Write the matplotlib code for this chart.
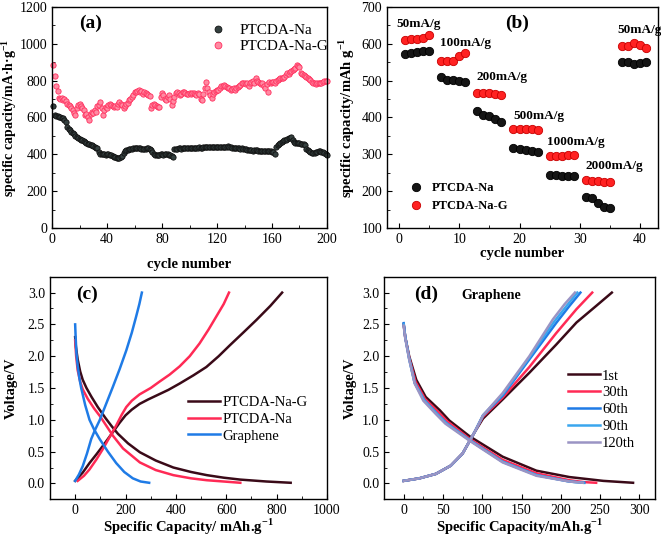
import numpy as np
import matplotlib
matplotlib.use("Agg")
import matplotlib.pyplot as plt
from matplotlib.ticker import MultipleLocator, FormatStrFormatter

plt.rcParams['font.family'] = ['Liberation Serif', 'DejaVu Serif']
plt.rcParams['mathtext.fontset'] = 'custom'
plt.rcParams['mathtext.rm'] = 'Liberation Serif'
plt.rcParams['mathtext.bf'] = 'Liberation Serif:bold'
plt.rcParams['xtick.direction'] = 'in'
plt.rcParams['ytick.direction'] = 'in'

# ---------- (a) cycling ----------
na_cap = [662, 612, 610, 608, 605, 600, 598, 595, 585, 575,
          550, 540, 530, 522, 515, 508, 500, 495, 490, 485,
          480, 476, 472, 468, 462, 458, 455, 452, 448, 445,
          440, 436, 432, 410, 402, 400, 400, 400, 398, 400,
          400, 398, 396, 392, 388, 384, 380, 382, 380, 384,
          390, 405, 420, 425, 426, 428, 430, 430, 432, 432,
          433, 433, 432, 432, 430, 430, 428, 430, 432, 432,
          430, 425, 410, 402, 398, 398, 396, 398, 400, 400,
          398, 400, 402, 400, 398, 396, 392, 388, 428, 430,
          430, 432, 432, 430, 432, 433, 433, 432, 434, 434,
          435, 436, 436, 434, 435, 436, 438, 437, 436, 438,
          440, 440, 438, 440, 441, 440, 440, 441, 442, 442,
          441, 440, 440, 438, 438, 440, 442, 443, 440, 438,
          436, 435, 436, 434, 432, 432, 430, 432, 430, 428,
          428, 426, 426, 425, 422, 420, 422, 424, 424, 420,
          418, 418, 420, 418, 418, 417, 416, 418, 416, 414,
          412, 400, 440, 448, 455, 462, 468, 472, 476, 480,
          484, 486, 488, 492, 478, 468, 464, 462, 462, 460,
          458, 456, 458, 450, 430, 426, 420, 414, 408, 406,
          408, 410, 414, 418, 418, 414, 412, 408, 402, 398]
nag_cap = [884, 828, 770, 745, 705, 700, 704, 694, 698, 688,
           676, 670, 660, 650, 640, 622, 613, 650, 666, 676,
           662, 650, 640, 612, 620, 600, 586, 620, 632, 625,
           640, 630, 660, 667, 685, 650, 613, 640, 658, 650,
           666, 676, 670, 665, 658, 660, 658, 672, 685, 676,
           668, 649, 660, 676, 680, 694, 700, 712, 724, 740,
           740, 745, 749, 738, 742, 730, 736, 731, 725, 722,
           716, 649, 668, 676, 667, 660, 658, 655, 710, 731,
           720, 700, 694, 710, 720, 700, 667, 690, 710, 731,
           740, 735, 720, 728, 736, 740, 734, 730, 728, 731,
           726, 734, 731, 728, 720, 731, 726, 700, 694, 730,
           760, 794, 758, 740, 720, 704, 730, 740, 745, 749,
           750, 762, 770, 772, 776, 770, 765, 762, 758, 750,
           755, 758, 752, 760, 765, 770, 778, 785, 790, 785,
           780, 790, 770, 785, 795, 800, 790, 812, 800, 792,
           785, 780, 790, 770, 760, 780, 740, 795, 790, 794,
           794, 790, 800, 805, 810, 812, 815, 812, 820, 830,
           840, 835, 845, 850, 860, 865, 870, 884, 880, 872,
           840, 835, 830, 825, 820, 812, 808, 803, 795, 790,
           785, 782, 785, 788, 786, 790, 792, 796, 800, 798]
cycles_a = np.arange(1, len(na_cap) + 1)

# ---------- (b) rate ----------
cycles_b = [1, 2, 3, 4, 5, 7, 8, 9, 10, 11, 13, 14, 15, 16, 17, 19, 20, 21, 22, 23,
            25, 26, 27, 28, 29, 31, 32, 33, 34, 35, 37, 38, 39, 40, 41]
rate_na = [572, 575, 578, 581, 581, 510, 502, 502, 499, 497, 417, 407, 403, 396, 387,
           316, 315, 312, 308, 306, 245, 243, 242, 242, 240, 184, 181, 169, 157, 155,
           551, 552, 545, 548, 551]
rate_nag = [611, 613, 614, 615, 625, 553, 553, 553, 567, 574, 467, 466, 466, 464, 460,
            370, 368, 368, 368, 366, 295, 296, 296, 297, 298, 229, 227, 227, 226, 226,
            595, 594, 601, 597, 589]
rate_labels = ["50mA/g", "100mA/g", "200mA/g", "500mA/g", "1000mA/g", "2000mA/g", "50mA/g"]
rate_label_x = [-0.5, 6.8, 12.9, 19.0, 24.5, 30.9, 36.2]
rate_label_y = [655, 603, 510, 405, 333, 269, 637]

# ---------- (c) voltage profiles ----------
c_nag_dis_x = [0, 3, 10, 20, 30, 45, 65, 90, 120, 145, 170, 210, 257, 320, 390, 460,
               523, 590, 656, 760, 856]
c_nag_dis_v = [2.3, 2.15, 1.95, 1.76, 1.63, 1.5, 1.36, 1.2, 1.03, 0.9, 0.78, 0.63, 0.49,
               0.36, 0.25, 0.18, 0.13, 0.09, 0.06, 0.03, 0.01]
c_nag_chg_x = [0, 30, 57, 85, 110, 145, 176, 200, 225, 256, 290, 322, 370, 415, 470,
               521, 570, 614, 670, 720, 775, 822]
c_nag_chg_v = [0.04, 0.17, 0.32, 0.46, 0.59, 0.78, 0.95, 1.07, 1.16, 1.25, 1.32, 1.38,
               1.47, 1.57, 1.7, 1.83, 2.0, 2.17, 2.38, 2.57, 2.79, 3.0]
c_na_dis_x = [0, 4, 10, 20, 30, 50, 75, 100, 125, 150, 190, 257, 320, 390, 460, 523,
              590, 656]
c_na_dis_v = [2.25, 2.0, 1.78, 1.6, 1.48, 1.33, 1.18, 1.05, 0.9, 0.75, 0.55, 0.33, 0.21,
              0.13, 0.08, 0.05, 0.03, 0.01]
c_na_chg_x = [10, 35, 57, 85, 110, 140, 163, 185, 203, 225, 256, 300, 335, 375, 415,
              455, 494, 530, 560, 590, 611]
c_na_chg_v = [0.04, 0.12, 0.22, 0.38, 0.54, 0.75, 0.91, 1.08, 1.2, 1.3, 1.4, 1.5, 1.6,
              1.71, 1.84, 2.0, 2.2, 2.42, 2.62, 2.82, 3.0]
c_gr_dis_x = [0, 2, 5, 10, 17, 24, 40, 57, 75, 97, 130, 163, 195, 229, 260, 294]
c_gr_dis_v = [2.5, 2.3, 2.05, 1.85, 1.65, 1.5, 1.23, 1.0, 0.85, 0.7, 0.5, 0.32, 0.18,
              0.08, 0.03, 0.01]
c_gr_chg_x = [0, 15, 30, 47, 64, 80, 97, 125, 150, 177, 203, 225, 242, 255, 265]
c_gr_chg_v = [0.04, 0.14, 0.27, 0.47, 0.7, 0.85, 0.99, 1.27, 1.52, 1.8, 2.09, 2.37,
              2.62, 2.82, 3.0]

# ---------- (d) graphene cycles ----------
d_labels = ["1st", "30th", "60th", "90th", "120th"]
d_dis_x = [[0, 2, 7, 16, 28, 46, 58, 84, 126, 169, 211, 254, 292],
           [0, 2, 7, 15, 27, 44, 56, 84, 126, 169, 211, 230, 245],
           [0, 2, 7, 14, 26, 42, 54, 84, 126, 169, 211, 230],
           [0, 2, 7, 14, 26, 42, 54, 84, 126, 169, 211, 229],
           [0, 2, 7, 14, 25, 41, 53, 84, 126, 169, 211, 228]]
d_dis_v = [[2.5, 2.3, 2.0, 1.63, 1.36, 1.15, 0.99, 0.74, 0.42, 0.2, 0.1, 0.04, 0.01],
           [2.5, 2.3, 1.98, 1.6, 1.33, 1.12, 0.97, 0.7, 0.37, 0.16, 0.05, 0.02, 0.01],
           [2.52, 2.3, 1.96, 1.58, 1.31, 1.1, 0.95, 0.68, 0.34, 0.13, 0.03, 0.01],
           [2.5, 2.3, 1.96, 1.58, 1.31, 1.1, 0.95, 0.68, 0.34, 0.13, 0.03, 0.01],
           [2.48, 2.28, 1.95, 1.57, 1.3, 1.09, 0.94, 0.67, 0.33, 0.12, 0.03, 0.01]]
d_chg_x = [[0, 20, 41, 60, 75, 90, 101, 126, 160, 194, 220, 245, 265],
           [0, 20, 41, 60, 75, 90, 101, 126, 160, 194, 220, 240],
           [0, 20, 41, 60, 75, 90, 101, 126, 160, 194, 211, 225],
           [0, 20, 41, 60, 75, 90, 101, 126, 160, 192, 208, 221],
           [0, 20, 41, 60, 75, 90, 101, 126, 160, 190, 205, 218]]
d_chg_v = [[0.04, 0.08, 0.15, 0.28, 0.47, 0.8, 1.02, 1.32, 1.74, 2.18, 2.53, 2.79, 3.0],
           [0.04, 0.08, 0.15, 0.28, 0.47, 0.8, 1.05, 1.35, 1.83, 2.36, 2.74, 3.0],
           [0.04, 0.08, 0.15, 0.28, 0.47, 0.8, 1.07, 1.38, 1.95, 2.52, 2.79, 3.0],
           [0.04, 0.08, 0.15, 0.28, 0.47, 0.8, 1.07, 1.4, 1.98, 2.55, 2.8, 3.0],
           [0.04, 0.08, 0.15, 0.28, 0.47, 0.8, 1.07, 1.42, 2.0, 2.58, 2.82, 3.0]]
d_colors = ["#3a0a18", "#ff2a55", "#1f7be6", "#3aa6ee", "#9a94c4"]

fig = plt.figure(figsize=(6.61, 5.38), dpi=100)
axa = fig.add_axes([0.0787, 0.5762, 0.416, 0.4108])
axb = fig.add_axes([0.5855, 0.5762, 0.410, 0.4108])
axc = fig.add_axes([0.0756, 0.0719, 0.419, 0.4138])
axd = fig.add_axes([0.581, 0.0719, 0.410, 0.4138])

xlab = dict(fontsize=10.5, fontweight='bold')
ylab = dict(fontsize=10.5, fontweight='bold')
for ax in (axa, axb, axc, axd):
    ax.tick_params(labelsize=10, length=3.5)
    ax.tick_params(which='minor', length=2)
    for s in ax.spines.values():
        s.set_linewidth(1.0)

# (a)
axa.plot(cycles_a, na_cap, 'o', ms=3.8, mfc='#34403f', mec='#111111', mew=0.6,
         label='PTCDA-Na', clip_on=False)
axa.plot(cycles_a, nag_cap, 'o', ms=3.8, mfc='#ff8aa2', mec='#ff2f5e', mew=0.6,
         label='PTCDA-Na-G', clip_on=False)
axa.set_xlim(0, 200)
axa.set_ylim(0, 1200)
axa.xaxis.set_major_locator(MultipleLocator(40))
axa.xaxis.set_minor_locator(MultipleLocator(20))
axa.yaxis.set_major_locator(MultipleLocator(200))
axa.yaxis.set_minor_locator(MultipleLocator(100))
axa.set_xlabel('cycle number', **xlab, labelpad=9)
axa.set_ylabel('specific capacity/mA·h·g$^{\\mathbf{-1}}$', fontsize=10,
               fontweight='bold', labelpad=0)
axa.text(20, 1110, '(a)', fontsize=14, fontweight='bold', va='center')
axa.legend(loc='upper left', bbox_to_anchor=(0.538, 0.952), frameon=False, fontsize=11,
           handlelength=1.6, handletextpad=0.6, labelspacing=0.15, borderaxespad=0,
           markerscale=1.3)

# (b)
axb.plot(cycles_b, rate_na, 'o', ms=6, mfc='#151515', mec='#000000', mew=0.6,
         label='PTCDA-Na')
axb.plot(cycles_b, rate_nag, 'o', ms=6, mfc='#ff2222', mec='#c80000', mew=0.6,
         label='PTCDA-Na-G')
axb.set_xlim(-2, 43)
axb.set_ylim(100, 700)
axb.xaxis.set_major_locator(MultipleLocator(10))
axb.xaxis.set_minor_locator(MultipleLocator(5))
axb.yaxis.set_major_locator(MultipleLocator(100))
axb.yaxis.set_minor_locator(MultipleLocator(50))
axb.set_xlabel('cycle number', **xlab, labelpad=1)
axb.set_ylabel('specific capacity/mAh g$^{\\mathbf{-1}}$', **ylab, labelpad=3)
for t, x, y in zip(rate_labels, rate_label_x, rate_label_y):
    axb.text(x, y, t, fontsize=9.5, fontweight='bold', va='center')
axb.text(19.6, 655, '(b)', fontsize=14, fontweight='bold', va='center', ha='center')
axb.legend(loc='upper left', bbox_to_anchor=(0.061, 0.23), frameon=False,
           prop={'weight': 'bold', 'size': 9}, borderaxespad=0,
           handlelength=1.2, handletextpad=0.68, labelspacing=0.5)

# (c)
axc.plot(c_nag_dis_x, c_nag_dis_v, color='#3a0a18', lw=1.8, label='PTCDA-Na-G')
axc.plot(c_nag_chg_x, c_nag_chg_v, color='#3a0a18', lw=1.8)
axc.plot(c_na_dis_x, c_na_dis_v, color='#ff2a55', lw=1.8, label='PTCDA-Na')
axc.plot(c_na_chg_x, c_na_chg_v, color='#ff2a55', lw=1.8)
axc.plot(c_gr_dis_x, c_gr_dis_v, color='#1f7be6', lw=1.8, label='Graphene')
axc.plot(c_gr_chg_x, c_gr_chg_v, color='#1f7be6', lw=1.8)
axc.set_xlim(-100, 1000)
axc.set_ylim(-0.25, 3.25)
axc.xaxis.set_major_locator(MultipleLocator(200))
axc.xaxis.set_minor_locator(MultipleLocator(100))
axc.yaxis.set_major_locator(MultipleLocator(0.5))
axc.yaxis.set_minor_locator(MultipleLocator(0.25))
axc.yaxis.set_major_formatter(FormatStrFormatter('%.1f'))
axc.set_xlabel('Specific Capacity/ mAh.g$^{\\mathbf{-1}}$', **xlab, labelpad=0)
axc.set_ylabel('Voltage/V', **ylab, labelpad=7)
axc.text(47, 2.97, '(c)', fontsize=14, fontweight='bold', va='center', ha='center')
axc.legend(loc='upper left', bbox_to_anchor=(0.477, 0.492), frameon=False, fontsize=10.5,
           borderaxespad=0, handlelength=2.2, handletextpad=0.15, labelspacing=0.25)

# (d)
for i in range(len(d_labels)):
    axd.plot(d_dis_x[i], d_dis_v[i], color=d_colors[i], lw=1.8, label=d_labels[i])
    axd.plot(d_chg_x[i], d_chg_v[i], color=d_colors[i], lw=1.8)
axd.set_xlim(-25, 320)
axd.set_ylim(-0.25, 3.25)
axd.xaxis.set_major_locator(MultipleLocator(50))
axd.xaxis.set_minor_locator(MultipleLocator(25))
axd.yaxis.set_major_locator(MultipleLocator(0.5))
axd.yaxis.set_minor_locator(MultipleLocator(0.25))
axd.yaxis.set_major_formatter(FormatStrFormatter('%.1f'))
axd.set_xlabel('Specific Capacity/mAh.g$^{\\mathbf{-1}}$', **xlab, labelpad=0)
axd.set_ylabel('Voltage/V', **ylab, labelpad=4)
axd.text(28, 2.97, '(d)', fontsize=14, fontweight='bold', va='center', ha='center')
axd.text(74, 2.96, 'Graphene', fontsize=10, fontweight='bold', va='center')
axd.legend(loc='upper left', bbox_to_anchor=(0.657, 0.61), frameon=False, fontsize=10.5,
           borderaxespad=0, handlelength=2.2, handletextpad=0.15, labelspacing=0.25)

fig.savefig('out.png', dpi=100)
